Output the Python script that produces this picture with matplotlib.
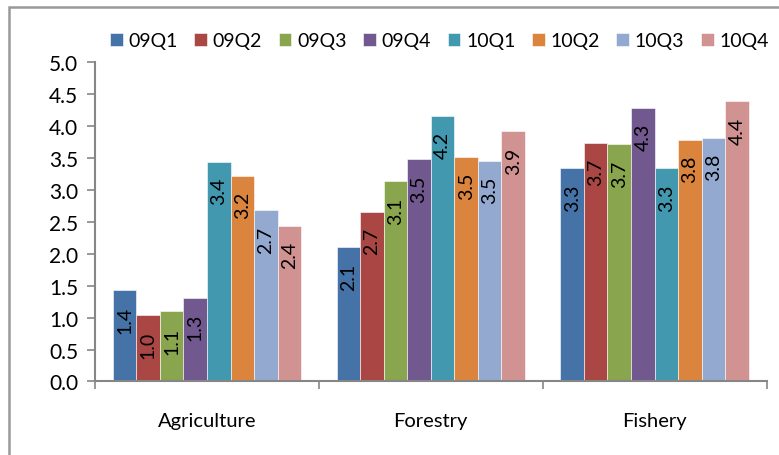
import matplotlib.pyplot as plt
from matplotlib.patches import Rectangle
import numpy as np

plt.rcParams['font.family'] = ['Lato', 'DejaVu Sans']

categories = ['Agriculture', 'Forestry', 'Fishery']
series = ['09Q1', '09Q2', '09Q3', '09Q4', '10Q1', '10Q2', '10Q3', '10Q4']
values = {
    '09Q1': [1.43, 2.10, 3.34],
    '09Q2': [1.04, 2.66, 3.74],
    '09Q3': [1.10, 3.14, 3.72],
    '09Q4': [1.31, 3.48, 4.29],
    '10Q1': [3.44, 4.16, 3.34],
    '10Q2': [3.22, 3.52, 3.79],
    '10Q3': [2.68, 3.46, 3.82],
    '10Q4': [2.44, 3.92, 4.39],
}
colors = ['#4572A7', '#AA4643', '#89A54E', '#71588F',
          '#4198AF', '#DB843D', '#93A9CF', '#D19392']

fig = plt.figure(figsize=(7.79, 4.56), dpi=100)
ax = fig.add_axes([0.122, 0.1612, 0.862, 0.7000])

n = len(series)
gap = 1.5
w = 1.0 / (n + gap)
x = np.arange(len(categories))
axis_col = '#868686'

handles = []
for i, s in enumerate(series):
    pos = x - 0.5 + (gap / 2 + i + 0.5) * w
    bars = ax.bar(pos, values[s], width=w, color=colors[i],
                  edgecolor='white', linewidth=0.4, label=s)
    handles.append(bars)
    for b, v in zip(bars, values[s]):
        ax.annotate(f'{v:.1f}', (b.get_x() + b.get_width() / 2, v),
                    xytext=(0, -11), textcoords='offset points',
                    ha='center', va='top', rotation=90, fontsize=14)

ax.set_xlim(-0.5, len(categories) - 0.5)
ax.set_ylim(0, 5.0)
ax.set_yticks(np.arange(0, 5.01, 0.5))
ax.set_yticklabels([f'{t:.1f}' for t in np.arange(0, 5.01, 0.5)])
ax.set_xticks(x)
ax.set_xticklabels(categories)
ax.set_xticks(np.arange(-0.5, len(categories)), minor=True)

for side in ['top', 'right']:
    ax.spines[side].set_visible(False)
for side in ['left', 'bottom']:
    ax.spines[side].set_color(axis_col)
    ax.spines[side].set_linewidth(1.5)
ax.tick_params(axis='y', colors=axis_col, labelcolor='black', labelsize=15,
               length=6, width=1.2, pad=6)
ax.tick_params(axis='x', which='major', length=0, pad=22, labelsize=14.5)
ax.tick_params(axis='x', which='minor', colors=axis_col, length=6, width=1.2)

fig.legend(handles=handles, labels=series, loc='center', ncol=8,
           bbox_to_anchor=(0.564, 0.908), frameon=False, fontsize=14,
           handlelength=0.65, handleheight=0.65, handletextpad=0.3,
           columnspacing=0.85, borderaxespad=0)

# chart frame
fig.patches.append(Rectangle((9 / 779, -0.1), 1.2, 1.1 - 8 / 456,
                             transform=fig.transFigure, fill=False,
                             edgecolor='#999999', linewidth=1.8))

fig.savefig('out.png', dpi=100)
